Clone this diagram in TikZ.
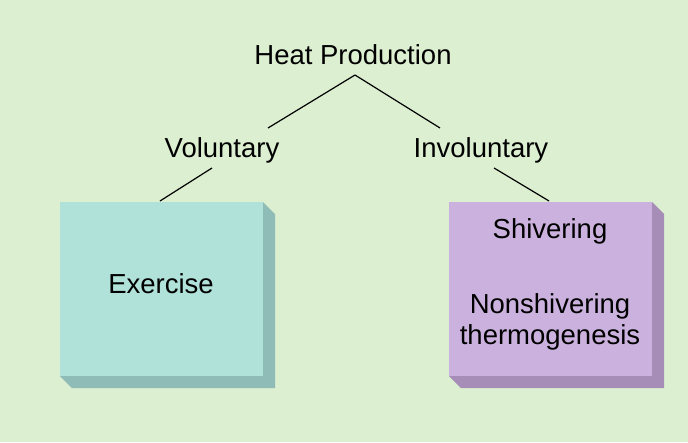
\documentclass[tikz,border=0pt]{standalone}
\usepackage{fontspec}
\setmainfont{Liberation Sans}
\definecolor{bg}{HTML}{DCEFD0}
\definecolor{cyanbox}{HTML}{B0E2DA}
\definecolor{cyanside}{HTML}{8FBCB6}
\definecolor{purpbox}{HTML}{CBB2DE}
\definecolor{purpside}{HTML}{A68DB8}
\begin{document}
\begin{tikzpicture}[x=1pt,y=-1pt,
  lbl/.style={font=\fontsize{27.5}{31}\selectfont,inner sep=0pt,align=center},
  conn/.style={line width=1.2pt,black}]
\fill[bg] (0,0) rectangle (688,442);
\useasboundingbox (0,0) rectangle (688,442);
% left box
\fill[cyanside] (263,202) -- (275,214) -- (275,388) -- (72,388) -- (60,376) -- (263,376) -- cycle;
\fill[cyanbox] (60,202) rectangle (263,376);
% right box
\fill[purpside] (652,202) -- (664,214) -- (664,388) -- (461,388) -- (449,376) -- (652,376) -- cycle;
\fill[purpbox] (449,202) rectangle (652,376);
\node[lbl] (heat) at (353,55) {Heat Production};
\node[lbl] (vol) at (222,150) {Voluntary};
\node[lbl] (invol) at (481,150) {Involuntary};
\node[lbl] (ex) at (161,284) {Exercise};
\node[lbl] (shiv) at (550,231) {Shivering};
\node[lbl] (nons) at (550,322) {Nonshivering\\thermogenesis};
\coordinate (h) at (355,75);
\coordinate (vt) at (268,128);
\coordinate (it) at (440,128);
\coordinate (vb) at (212,168);
\coordinate (ib) at (494,168);
\coordinate (lb) at (160,201);
\coordinate (rb) at (549,201);
\draw[conn] (h) -- (vt);
\draw[conn] (h) -- (it);
\draw[conn] (vb) -- (lb);
\draw[conn] (ib) -- (rb);
\end{tikzpicture}
\end{document}
